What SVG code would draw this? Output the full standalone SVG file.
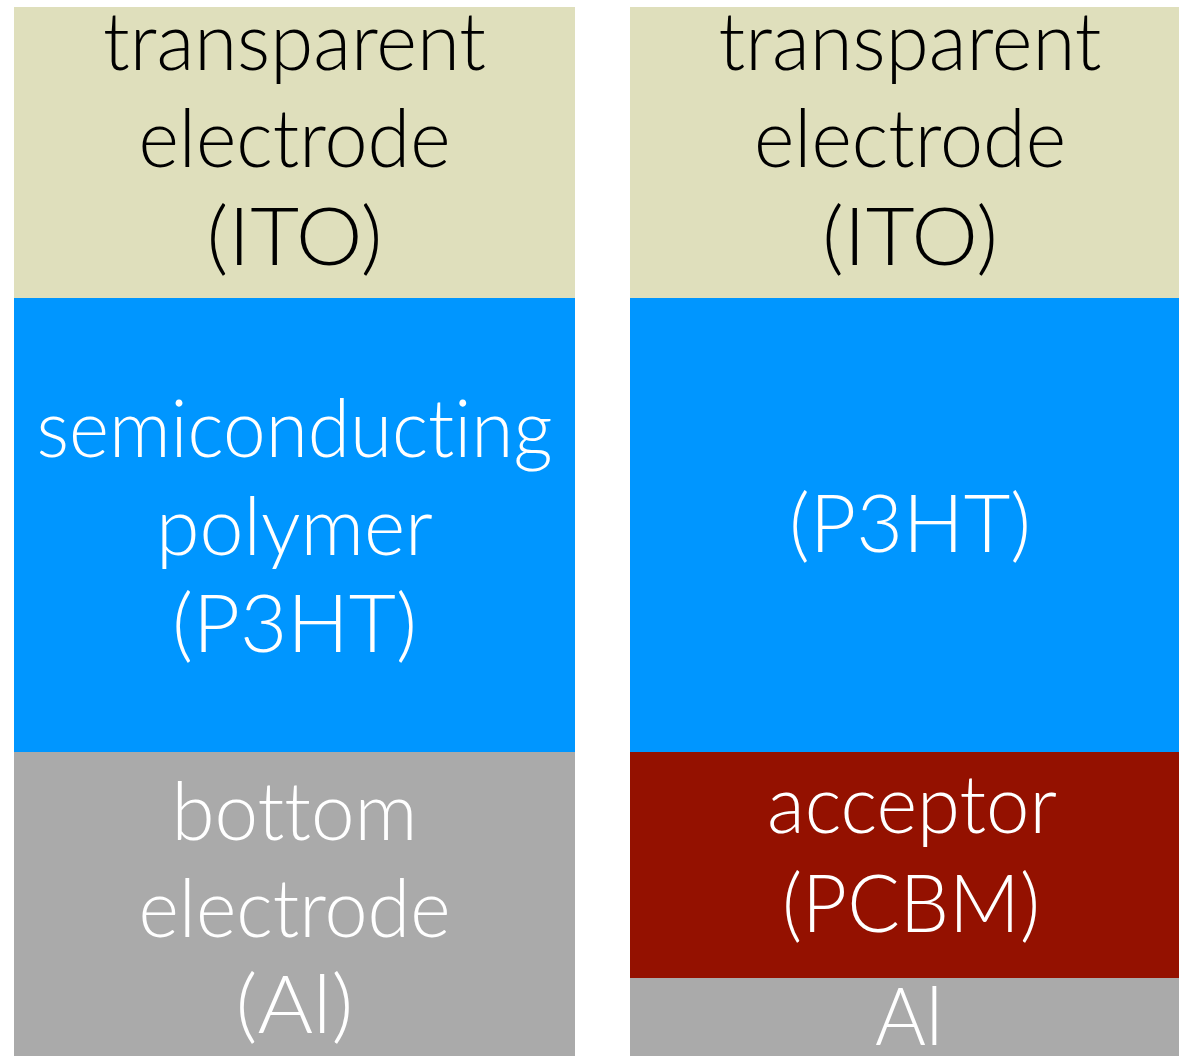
<svg xmlns="http://www.w3.org/2000/svg" width="1179" height="1056" viewBox="0 0 1179 1056">
  <style>
    .lbl { font-family: Lato, "Open Sans", "Liberation Sans", sans-serif; font-size: 80px; font-weight: 300; text-anchor: middle; font-variant-ligatures: none; }
    .dark { fill: #000000; }
    .light { fill: #ffffff; }
    .ito { fill: #dfdfbc; }
    .p3ht { fill: #0096ff; }
    .al { fill: #aaaaaa; }
    .pcbm { fill: #941100; }
  </style>
  <rect width="1179" height="1056" fill="#ffffff"/>

  <!-- Left stack: single-layer device -->
  <g id="left-ito">
    <rect class="ito" x="14" y="7" width="561" height="291"/>
    <text class="lbl dark" x="294.5" y="70" textLength="383" lengthAdjust="spacingAndGlyphs">transparent</text>
    <text class="lbl dark" x="294.5" y="167" textLength="312" lengthAdjust="spacingAndGlyphs">electrode</text>
    <text class="lbl dark" x="294.5" y="265" textLength="176" lengthAdjust="spacingAndGlyphs">(ITO)</text>
  </g>
  <g id="left-polymer">
    <rect class="p3ht" x="14" y="298" width="561" height="454"/>
    <text class="lbl light" x="294.5" y="457" textLength="516" lengthAdjust="spacingAndGlyphs">semiconducting</text>
    <text class="lbl light" x="294.5" y="555" textLength="277" lengthAdjust="spacingAndGlyphs">polymer</text>
    <text class="lbl light" x="294.5" y="652" textLength="245" lengthAdjust="spacingAndGlyphs">(P3HT)</text>
  </g>
  <g id="left-al">
    <rect class="al" x="14" y="752" width="561" height="304"/>
    <text class="lbl light" x="294.5" y="840" textLength="246" lengthAdjust="spacingAndGlyphs">bottom</text>
    <text class="lbl light" x="294.5" y="937" textLength="312" lengthAdjust="spacingAndGlyphs">electrode</text>
    <text class="lbl light" x="294.5" y="1033" textLength="118" lengthAdjust="spacingAndGlyphs">(Al)</text>
  </g>

  <!-- Right stack: bilayer device with acceptor -->
  <g id="right-ito">
    <rect class="ito" x="630" y="7" width="549" height="291"/>
    <text class="lbl dark" x="910" y="70" textLength="383" lengthAdjust="spacingAndGlyphs">transparent</text>
    <text class="lbl dark" x="910" y="167" textLength="312" lengthAdjust="spacingAndGlyphs">electrode</text>
    <text class="lbl dark" x="910" y="265" textLength="176" lengthAdjust="spacingAndGlyphs">(ITO)</text>
  </g>
  <g id="right-polymer">
    <rect class="p3ht" x="630" y="298" width="549" height="454"/>
    <text class="lbl light" x="910" y="552" textLength="242" lengthAdjust="spacingAndGlyphs">(P3HT)</text>
  </g>
  <g id="right-pcbm">
    <rect class="pcbm" x="630" y="752" width="549" height="226"/>
    <text class="lbl light" x="912" y="833" textLength="290" lengthAdjust="spacingAndGlyphs">acceptor</text>
    <text class="lbl light" x="911" y="932" textLength="258" lengthAdjust="spacingAndGlyphs">(PCBM)</text>
  </g>
  <g id="right-al">
    <rect class="al" x="630" y="978" width="549" height="78"/>
    <text class="lbl light" x="909" y="1045" textLength="68" lengthAdjust="spacingAndGlyphs">Al</text>
  </g>

  <g id="connectors"/>
</svg>
